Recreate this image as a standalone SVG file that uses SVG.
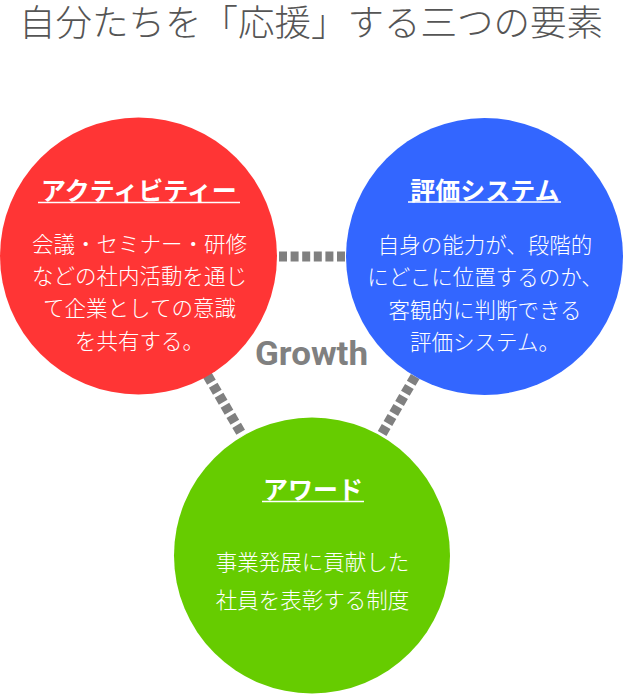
<svg xmlns="http://www.w3.org/2000/svg" width="623" height="694" viewBox="0 0 623 694">
<style>
.title{font-family:"Noto Sans CJK JP","Noto Sans",sans-serif;font-weight:300;font-size:36.5px;fill:#555555;text-anchor:middle}
.head{font-family:"Noto Sans CJK JP","Noto Sans",sans-serif;font-weight:700;font-size:25px;fill:#ffffff;text-anchor:middle}
.body{font-family:"Noto Sans CJK JP","Noto Sans",sans-serif;font-weight:300;font-size:21.5px;fill:#ffffff;text-anchor:middle}
.ul{stroke:#ffffff;stroke-width:1.6}
.conn{stroke:#808080;stroke-width:10;stroke-dasharray:8 3.6;fill:none}
.growth{font-family:Roboto,"Liberation Sans",sans-serif;font-weight:700;font-size:33px;fill:#808080;text-anchor:middle}
</style>
<rect width="623" height="694" fill="#ffffff"/>
<text class="title" x="311" y="35.5">自分たちを「応援」する三つの要素</text>
<g id="connectors">
<line class="conn" x1="279" y1="256.5" x2="346" y2="256.5"/>
<line class="conn" x1="207.4" y1="375.3" x2="242.6" y2="435.6"/>
<line class="conn" x1="415.2" y1="376.4" x2="381" y2="435.5"/>
</g>
<text class="growth" x="311.5" y="365" textLength="113" lengthAdjust="spacingAndGlyphs">Growth</text>
<g id="activity">
<circle cx="138.5" cy="256" r="138.5" fill="#ff3535"/>
<text class="head" x="139" y="200">アクティビティー</text>
<line class="ul" x1="38" y1="202.5" x2="240" y2="202.5"/>
<text class="body" x="139.5" y="252">会議・セミナー・研修</text>
<text class="body" x="139.5" y="284">などの社内活動を通じ</text>
<text class="body" x="139.5" y="316">て企業としての意識</text>
<text class="body" x="139.5" y="349">を共有する。</text>
</g>
<g id="evaluation">
<circle cx="484.5" cy="256.5" r="138.5" fill="#3366ff"/>
<text class="head" x="485" y="199.5">評価システム</text>
<line class="ul" x1="408" y1="202" x2="561" y2="202"/>
<text class="body" x="485" y="253">自身の能力が、段階的</text>
<text class="body" x="485" y="285">にどこに位置するのか、</text>
<text class="body" x="485" y="318">客観的に判断できる</text>
<text class="body" x="485" y="350">評価システム。</text>
</g>
<g id="award">
<circle cx="312" cy="555.5" r="138" fill="#66cc00"/>
<text class="head" x="313" y="498.5">アワード</text>
<line class="ul" x1="262" y1="501.5" x2="364" y2="501.5"/>
<text class="body" x="312.5" y="570">事業発展に貢献した</text>
<text class="body" x="312.5" y="608">社員を表彰する制度</text>
</g>
</svg>
